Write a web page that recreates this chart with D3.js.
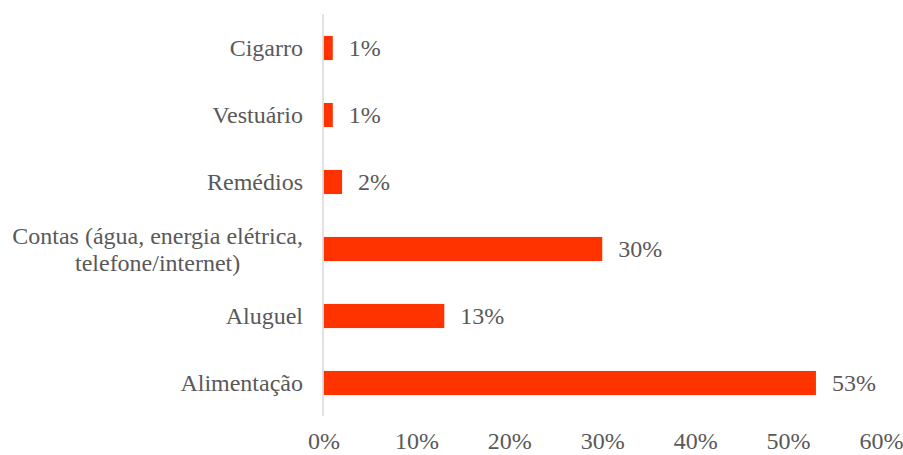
<!DOCTYPE html>
<html>
<head>
<meta charset="utf-8">
<script src="https://cdn.jsdelivr.net/npm/d3@7"></script>
<style>
  html, body { margin: 0; padding: 0; background: #ffffff; }
</style>
</head>
<body>
<svg id="chart" width="903" height="455"></svg>
<script>
// Expense categories (top to bottom) and their share of spending, in percent
const categories = [
  ["Cigarro"],
  ["Vestuário"],
  ["Remédios"],
  ["Contas (água, energia elétrica,", "telefone/internet)"],
  ["Aluguel"],
  ["Alimentação"]
];
const values = [1, 1, 2, 30, 13, 53];
const tickValues = [0, 10, 20, 30, 40, 50, 60];

const FONT = "Liberation Serif";
const fontSize = 24;
const textColor = "#595959";
const barColor = "#FF3300";

const svg = d3.select("#chart");

const x = d3.scaleLinear().domain([0, 60]).range([323.5, 881]);
const y = d3.scaleBand()
  .domain(d3.range(categories.length))
  .range([14.5, 416.5])
  .paddingInner(0.64)
  .paddingOuter(0.32);

// Bars
svg.append("g").selectAll("rect")
  .data(values)
  .join("rect")
  .attr("x", x(0))
  .attr("y", (d, i) => y(i))
  .attr("width", d => x(d) - x(0))
  .attr("height", y.bandwidth())
  .attr("fill", barColor);

// Vertical category axis line
svg.append("line")
  .attr("x1", x(0) - 0.5).attr("x2", x(0) - 0.5)
  .attr("y1", 14).attr("y2", 416)
  .attr("stroke", "#d9d9d9")
  .attr("stroke-width", 1.5);

// Category labels, right-aligned block; wrapped lines centred within it
const labelRight = 303;
const lineHeight = 27;
categories.forEach((lines, i) => {
  const cy = y(i) + y.bandwidth() / 2;
  const t = svg.append("text")
    .attr("font-family", FONT)
    .attr("font-size", fontSize)
    .attr("fill", textColor)
    .attr("dominant-baseline", "central");
  lines.forEach(ln => { t.append("tspan").text(ln); });
  const widths = [];
  t.selectAll("tspan").each(function () { widths.push(this.getComputedTextLength()); });
  const maxW = d3.max(widths);
  const cx = labelRight - maxW / 2;
  const y0 = cy - (lines.length - 1) * lineHeight / 2;
  t.attr("text-anchor", "middle");
  t.selectAll("tspan")
    .attr("x", cx)
    .attr("y", (d, j) => y0 + j * lineHeight);
});

// Value labels to the right of each bar
svg.append("g").selectAll("text")
  .data(values)
  .join("text")
  .attr("font-family", FONT)
  .attr("x", d => x(d) + 16)
  .attr("y", (d, i) => y(i) + y.bandwidth() / 2)
  .attr("dominant-baseline", "central")
  .attr("font-size", fontSize)
  .attr("fill", textColor)
  .text(d => d + "%");

// Bottom value axis (labels only)
const xAxis = d3.axisBottom(x)
  .tickValues(tickValues)
  .tickSize(0)
  .tickPadding(0)
  .tickFormat(d => d + "%");
const ax = svg.append("g")
  .attr("transform", "translate(0,441)")
  .call(xAxis);
ax.attr("font-family", FONT).attr("font-size", fontSize);
ax.select(".domain").remove();
ax.selectAll("text")
  .attr("font-family", FONT)
  .attr("font-size", fontSize)
  .attr("fill", textColor)
  .attr("dy", null)
  .attr("dominant-baseline", "central");
</script>
</body>
</html>
